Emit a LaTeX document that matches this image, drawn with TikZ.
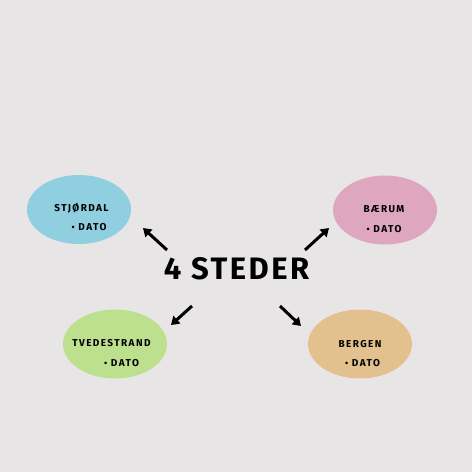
\documentclass[tikz,border=0pt]{standalone}
\usepackage{fontspec}
\setmainfont{Fira Sans}[LetterSpace=8]
\newfontfamily\lblfont{Fira Sans}[LetterSpace=14]
\usetikzlibrary{shapes.geometric,arrows.meta}
\definecolor{bg}{HTML}{E8E5E6}
\definecolor{cblue}{HTML}{90CFE0}
\definecolor{cpink}{HTML}{DFA7BF}
\definecolor{cgreen}{HTML}{BDE08E}
\definecolor{ctan}{HTML}{E2C18F}
\tikzset{
  place/.style={ellipse, draw=none, minimum width=104pt, minimum height=69pt, inner sep=0pt},
  lbl/.style={font=\lblfont\bfseries\fontsize{10}{10}\selectfont, text=black, inner sep=0pt},
  arr/.style={line width=3pt, -{Triangle[length=8pt,width=10pt]}}
}
\begin{document}
\begin{tikzpicture}[x=1pt,y=-1pt]
\fill[bg] (0,0) rectangle (472,472);
\useasboundingbox (0,0) rectangle (472,472);
\node[place, fill=cblue] (stj) at (79,209.5) {};
\node[place, fill=cpink] (bae) at (385,210) {};
\node[place, fill=cgreen] (tve) at (115,344) {};
\node[place, fill=ctan] (ber) at (360,344) {};
\node[lbl] (stjn) at (81.5,208) {STJØRDAL};
\node[lbl] (stjd) at (89,227) {{\small•}\ DATO};
\node[lbl] (baen) at (384,209) {BÆRUM};
\node[lbl] (baed) at (384,229) {{\small•}\ DATO};
\node[lbl] (tven) at (111.5,343) {TVEDESTRAND};
\node[lbl] (tved) at (121.5,363) {{\small•}\ DATO};
\node[lbl] (bern) at (360,344) {BERGEN};
\node[lbl] (berd) at (362.5,363) {{\small•}\ DATO};
\node[font=\bfseries\fontsize{31}{31}\selectfont, inner sep=0pt] (title) at (236.5,269) {4 STEDER};
\coordinate (a1s) at (167,250); \coordinate (a1e) at (143,228);
\coordinate (a2s) at (305,250); \coordinate (a2e) at (329,228);
\coordinate (a3s) at (192,306); \coordinate (a3e) at (171,325);
\coordinate (a4s) at (280,306); \coordinate (a4e) at (301,326);
\draw[arr] (a1s) -- (a1e);
\draw[arr] (a2s) -- (a2e);
\draw[arr] (a3s) -- (a3e);
\draw[arr] (a4s) -- (a4e);
\end{tikzpicture}
\end{document}
